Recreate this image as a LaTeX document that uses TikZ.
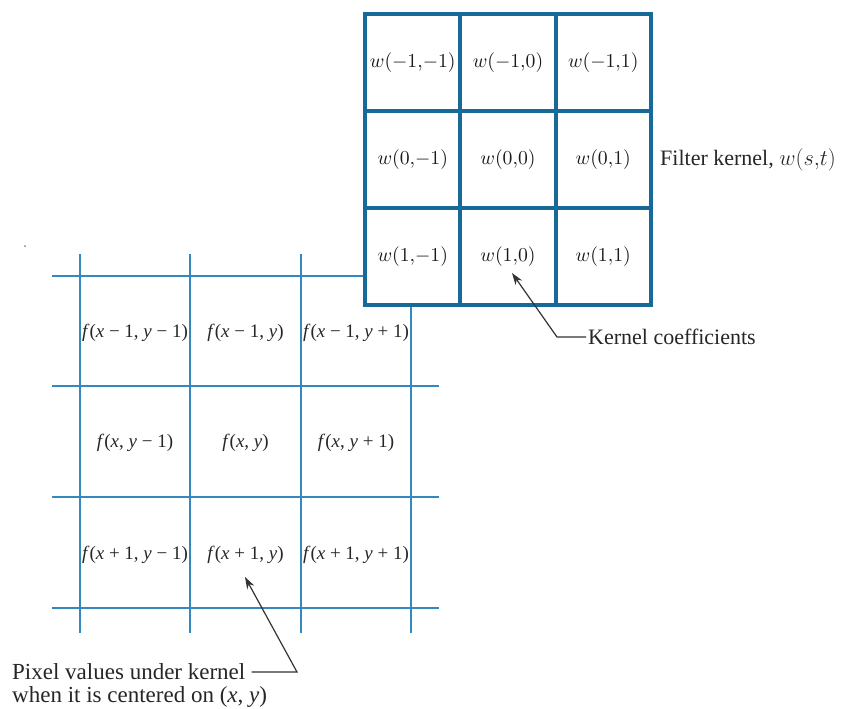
\documentclass[tikz,border=0pt]{standalone}
\usepackage{graphicx}
\usepackage{fontspec}
\setmainfont{Liberation Serif}
\usetikzlibrary{arrows.meta}
\definecolor{kblue}{HTML}{17699A}
\definecolor{pblue}{HTML}{3389BD}
\definecolor{arr}{HTML}{333333}
\newcommand\wm[1]{\scalebox{1.97}{$#1$}}
\tikzset{
 kcell/.style={draw=kblue, line width=4pt, fill=white, minimum width=95.3pt, minimum height=97.2pt, inner sep=0pt, text=black!90},
 ptext/.style={inner sep=0pt, font=\fontsize{19}{22}\selectfont, text=black!85},
 plabel/.style={inner sep=0pt, font=\fontsize{22}{25}\selectfont, text=black!85},
 blabel/.style={inner sep=0pt, font=\fontsize{23}{25}\selectfont, text=black!85},
 gridline/.style={draw=pblue, line width=1.5pt},
 callout/.style={draw=arr, line width=1.2pt, -{Stealth[length=12pt,width=8pt]}}
}
\begin{document}
\begin{tikzpicture}[x=1pt,y=-1pt]
\useasboundingbox (0,0) rectangle (841,709);
% stray dot
\fill[gray] (25,246) circle (1);
% pixel grid
\foreach \x in {80,190,301,411} \draw[gridline] (\x,254) -- (\x,633);
\foreach \y in {276,386,497,608} \draw[gridline] (52,\y) -- (439,\y);
% pixel values
\node[ptext] (f11) at (135,333) {\textit{f}(\textit{x} − 1, \textit{y} − 1)};
\node[ptext] (f12) at (245.5,333) {\textit{f}(\textit{x} − 1, \textit{y})};
\node[ptext] (f13) at (356,333) {\textit{f}(\textit{x} − 1, \textit{y} + 1)};
\node[ptext] (f21) at (135,443) {\textit{f}(\textit{x}, \textit{y} − 1)};
\node[ptext] (f22) at (245.5,443) {\textit{f}(\textit{x}, \textit{y})};
\node[ptext] (f23) at (356,443) {\textit{f}(\textit{x}, \textit{y} + 1)};
\node[ptext] (f31) at (135,555) {\textit{f}(\textit{x} + 1, \textit{y} − 1)};
\node[ptext] (f32) at (245.5,555) {\textit{f}(\textit{x} + 1, \textit{y})};
\node[ptext] (f33) at (356,555) {\textit{f}(\textit{x} + 1, \textit{y} + 1)};
% kernel
\node[kcell] (w11) at (412.75,62.25) {\wm{w({-1}{,}{-1})}};
\node[kcell] (w12) at (508,62.25) {\wm{w({-1}{,}0)}};
\node[kcell] (w13) at (603.25,62.25) {\wm{w({-1}{,}1)}};
\node[kcell] (w21) at (412.75,159.5) {\wm{w(0{,}{-1})}};
\node[kcell] (w22) at (508,159.5) {\wm{w(0{,}0)}};
\node[kcell] (w23) at (603.25,159.5) {\wm{w(0{,}1)}};
\node[kcell] (w31) at (412.75,256.5) {\wm{w(1{,}{-1})}};
\node[kcell] (w32) at (508,256.5) {\wm{w(1{,}0)}};
\node[kcell] (w33) at (603.25,256.5) {\wm{w(1{,}1)}};
% labels
\node[plabel, anchor=west] (fk) at (660,160) {Filter kernel, \scalebox{1.08}{$w(s{,}t)$}};
\node[plabel, anchor=west] (kc) at (588,337) {Kernel coefficients};
\node[blabel, anchor=west] (pv1) at (12,672) {Pixel values under kernel};
\node[blabel, anchor=west] (pv2) at (12,697) {when it is centered on (\textit{x}, \textit{y})};
% callouts
\coordinate (kccorner) at (557,337);
\coordinate (kctip) at (512,273);
\coordinate (pvcorner) at (297,672);
\coordinate (pvtip) at (245,577);
\draw[callout] ([xshift=-2pt]kc.west) -- (kccorner |- kc.west) -- (kctip);
\draw[callout] ([xshift=6pt]pv1.east) -- (pvcorner |- pv1.east) -- (pvtip);
\end{tikzpicture}
\end{document}
